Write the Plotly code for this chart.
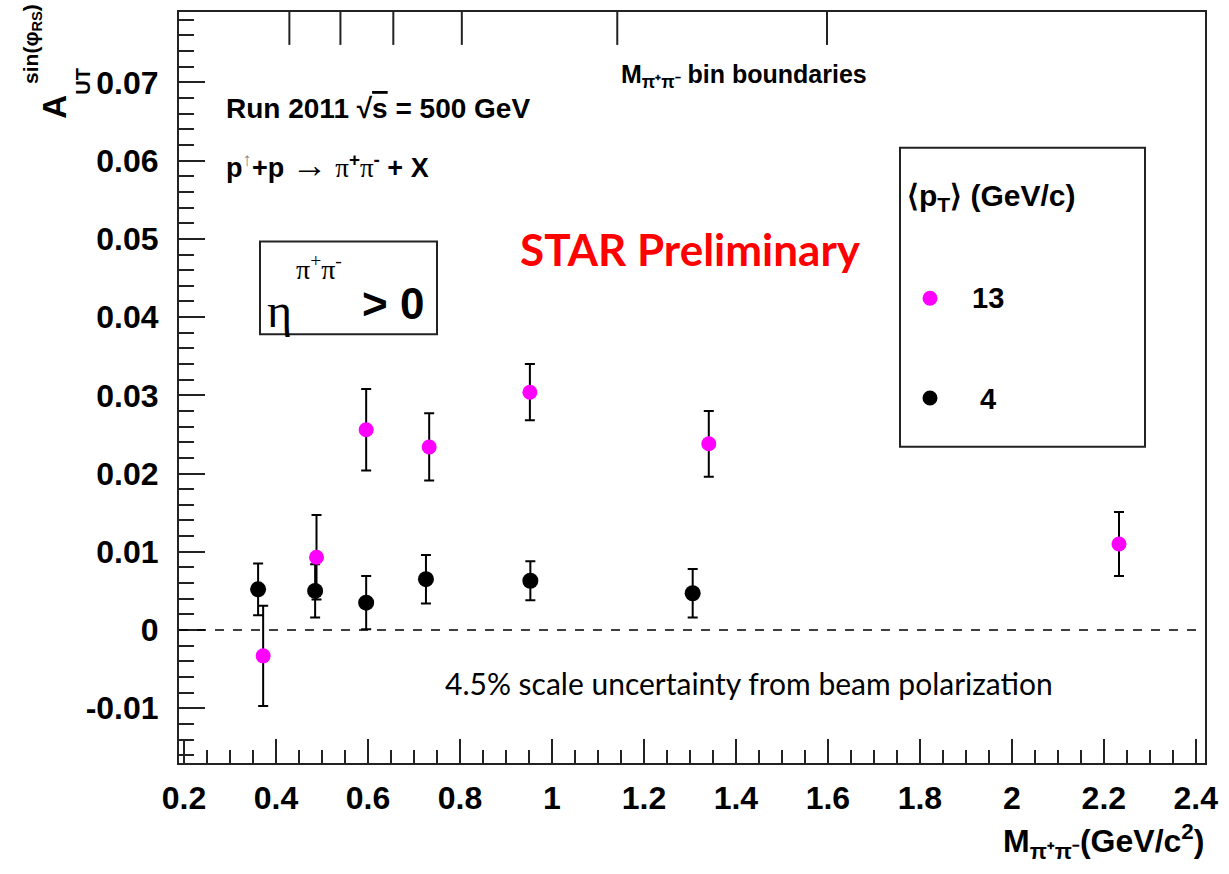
import plotly.graph_objects as go

# --- measured asymmetries vs. pair invariant mass ---
pt13_mass = [0.372, 0.488, 0.596, 0.733, 0.952, 1.341, 2.233]
pt13_asym = [-0.0033, 0.0093, 0.0256, 0.0234, 0.0304, 0.0238, 0.0110]
pt13_err = [0.0064, 0.0054, 0.0052, 0.0043, 0.0036, 0.0042, 0.0041]

pt4_mass = [0.361, 0.485, 0.596, 0.726, 0.953, 1.306]
pt4_asym = [0.0052, 0.0050, 0.0035, 0.0065, 0.0063, 0.0047]
pt4_err = [0.0033, 0.0034, 0.0034, 0.0031, 0.0025, 0.0031]

# edges of the invariant-mass bins, marked along the top of the frame
bin_boundaries = [0.429, 0.540, 0.655, 0.804, 1.142, 1.598]

x_ticks = [0.2, 0.4, 0.6, 0.8, 1.0, 1.2, 1.4, 1.6, 1.8, 2.0, 2.2, 2.4]
x_tick_labels = ["0.2", "0.4", "0.6", "0.8", "1", "1.2", "1.4", "1.6", "1.8", "2", "2.2", "2.4"]
y_ticks = [-0.01, 0.0, 0.01, 0.02, 0.03, 0.04, 0.05, 0.06, 0.07]
y_tick_labels = ["-0.01", "0", "0.01", "0.02", "0.03", "0.04", "0.05", "0.06", "0.07"]

legend_labels = ["13", "4"]
MAGENTA = "#ff00ff"
BLACK = "#000000"

W, H = 1229, 874
L, R, T, B = 179, 1205, 10, 763
SANS = "Liberation Sans"
SERIF = "Liberation Serif"
HUMANIST = "Lato"


def px(xp):
    return (xp - L) / (R - L)


def py(yp):
    return (B - yp) / (B - T)


def serif(s, size=None):
    extra = f";font-size:{size}px" if size else ""
    return f"<span style='font-family:{SERIF};font-weight:normal{extra}'>{s}</span>"


fig = go.Figure()

fig.add_trace(go.Scatter(
    x=pt4_mass, y=pt4_asym, mode="markers", name=legend_labels[1],
    marker=dict(color=BLACK, size=16),
    error_y=dict(type="data", array=pt4_err, color="black", thickness=2, width=5),
    showlegend=False,
))
fig.add_trace(go.Scatter(
    x=pt13_mass, y=pt13_asym, mode="markers", name=legend_labels[0],
    marker=dict(color=MAGENTA, size=15),
    error_y=dict(type="data", array=pt13_err, color="black", thickness=2, width=5),
    showlegend=False,
))

shapes = []
# dashed zero line
shapes.append(dict(type="line", xref="paper", yref="y", x0=0, x1=1, y0=0, y1=0,
                   line=dict(color="black", width=1.5, dash="dash")))
# bin boundary ticks hanging from the top frame
for xb in bin_boundaries:
    shapes.append(dict(type="line", xref="x", yref="paper", x0=xb, x1=xb,
                       y0=1, y1=py(T + 33), line=dict(color="#222", width=2)))
# eta selection box
shapes.append(dict(type="rect", xref="paper", yref="paper",
                   x0=px(260), x1=px(437), y0=py(333), y1=py(240),
                   line=dict(color="#222", width=2)))
# legend box and its keys
shapes.append(dict(type="rect", xref="paper", yref="paper",
                   x0=px(900), x1=px(1145), y0=py(446), y1=py(146),
                   line=dict(color="#222", width=2)))
for yc, col in [(297, MAGENTA), (397, BLACK)]:
    shapes.append(dict(type="circle", xref="paper", yref="paper",
                       x0=px(930 - 7.5), x1=px(930 + 7.5), y0=py(yc + 7.5), y1=py(yc - 7.5),
                       fillcolor=col, line=dict(color=col, width=0)))

ann = []


def text(x, y, s, size, family=SANS, bold=True, color="black", xanchor="left",
         yanchor="middle", angle=0):
    ann.append(dict(x=px(x), y=py(y), xref="paper", yref="paper", text=s,
                    showarrow=False, xanchor=xanchor, yanchor=yanchor, textangle=angle,
                    font=dict(family=family, size=size, color=color,
                              weight="bold" if bold else "normal")))


# axis titles
text(55, 105, "A", 33, angle=-90, xanchor="center")
text(83, 80, "UT", 20, angle=-90, xanchor="center")
text(32, 42, "sin(φ<sub>RS</sub>)", 21, angle=-90, xanchor="center")
text(1206, 842, "M<sub>π⁺π⁻</sub>(GeV/c<sup>2</sup>)", 32, xanchor="right")

# run / process description
text(224, 107, "Run 2011 √<span style='text-decoration:overline'>s</span> = 500 GeV", 28)
text(224, 163, "p<sup><span style='color:#888'>↑</span></sup>+p " + serif("→", 36) + " " + serif("π")
     + "<sup>+</sup>" + serif("π") + "<sup>-</sup> + X", 27)
text(619, 74, "M<sub>π⁺π⁻</sub> bin boundaries", 25)

# eta cut box contents
text(279, 309, "η", 48, family=SERIF, bold=False, xanchor="center")
text(319, 266, "π<sup>+</sup>π<sup>-</sup>", 28, family=SERIF, bold=False, xanchor="center")
text(393, 302, "> 0", 44, xanchor="center")

# legend contents
text(905, 196, "⟨p<sub>T</sub>⟩ (GeV/c)", 30)
text(970, 297, legend_labels[0], 29)
text(978, 398, legend_labels[1], 29)

# overlays
text(690, 248, "STAR Preliminary", 44, family=HUMANIST, color="#ff0000", xanchor="center")
text(443, 683, "4.5% scale uncertainty from beam polarization", 30, family=HUMANIST, bold=False)

fig.update_layout(
    width=W, height=H,
    margin=dict(l=L, r=W - R, t=T, b=H - B, pad=0),
    paper_bgcolor="white", plot_bgcolor="white",
    shapes=shapes, annotations=ann,
    xaxis=dict(
        range=[0.189, 2.42], tickmode="array", tickvals=x_ticks, ticktext=x_tick_labels,
        ticks="inside", ticklen=24, tickwidth=2, tickcolor="#222",
        minor=dict(dtick=0.05, tick0=0.2, ticks="inside", ticklen=13, tickwidth=2, tickcolor="#222"),
        showline=True, linewidth=2, linecolor="#222", mirror=True,
        showgrid=False, zeroline=False, ticklabelstandoff=6,
        tickfont=dict(family=SANS, size=32, color="black", weight="bold"),
    ),
    yaxis=dict(
        range=[-0.017, 0.079], tickmode="array", tickvals=y_ticks, ticktext=y_tick_labels,
        ticks="inside", ticklen=26, tickwidth=2, tickcolor="#222",
        minor=dict(dtick=0.002, tick0=0, ticks="inside", ticklen=15, tickwidth=2, tickcolor="#222"),
        showline=True, linewidth=2, linecolor="#222", mirror=True,
        showgrid=False, zeroline=False, ticklabelstandoff=12,
        tickfont=dict(family=SANS, size=32, color="black", weight="bold"),
    ),
)

fig.write_html("out.html")
